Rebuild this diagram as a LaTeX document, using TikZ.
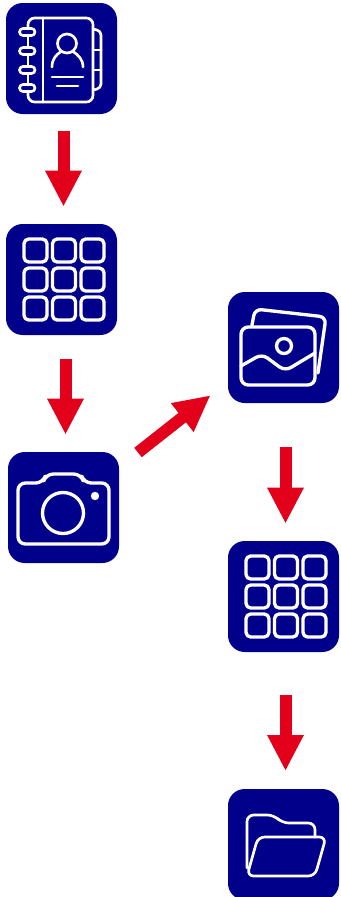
\documentclass[tikz,border=0pt]{standalone}
\usepackage{tikz}
\usetikzlibrary{arrows.meta}

\definecolor{tilenavy}{RGB}{0,0,139}
\definecolor{arrowred}{RGB}{227,0,27}

\tikzset{
    tile/.style={fill=tilenavy, minimum size=83.25pt, inner sep=0pt, outer sep=0pt, rounded corners=12.5pt},
    glyph/.style={draw=white, line width=2.5pt, line join=round, line cap=round},
    thinglyph/.style={draw=white, line width=2pt, line join=round, line cap=round},
    flowarrow/.style={draw=arrowred, line width=9pt, -{Triangle[length=27pt,width=25.5pt,fill=arrowred]}},
    pics/appgrid/.style={code={
        \foreach \col in {-1,0,1} {
            \foreach \row in {-1,0,1} {
                \draw[glyph, rounded corners=3.5pt] ({2.5+28.5*\col-11.5},{29*\row-11.5}) rectangle ({2.5+28.5*\col+11.5},{29*\row+11.5});
            }
        }
    }}
}

\begin{document}
\begin{tikzpicture}[x=0.75pt, y=-0.75pt]

    \clip (0,0) rectangle (341,897);

    % Tiles
    \node[tile] (contacts) at (61.5,58.5) {};
    \node[tile] (appsleft) at (61.5,279.5) {};
    \node[tile] (camera) at (63.5,507.5) {};
    \node[tile] (photos) at (283.5,347.5) {};
    \node[tile] (appsright) at (283.5,596.5) {};
    \node[tile] (folder) at (283.5,844.5) {};

    % Arrows
    \draw[flowarrow] ([xshift=1.5pt]contacts.south) ++(0,17) -- ([xshift=1.5pt,yshift=13pt]appsleft.north);
    \draw[flowarrow] ([xshift=3pt]appsleft.south) ++(0,24) -- ([xshift=1.5pt,yshift=13pt]camera.north);
    \draw[flowarrow] ([xshift=1.5pt]photos.south) ++(0,44) -- ([xshift=1.5pt,yshift=13pt]appsright.north);
    \draw[flowarrow] ([xshift=1.5pt]appsright.south) ++(0,43) -- ([xshift=1.5pt,yshift=13.5pt]folder.north);
    \draw[flowarrow] ([shift={(19,-55)}]camera.east) -- ([shift={(-17.5,47.8)}]photos.west);

    % Address book
    \draw[thinglyph, rounded corners=5pt] (28,28) -- (28,18) -- (93,18) -- (93,102) -- (28,102) -- (28,92);
    \foreach \ypos in {36,55,74} {
        \draw[thinglyph] (28,\ypos) -- (28,\ypos+11);
    }
    \foreach \ypos in {32,51,70,88} {
        \draw[thinglyph, rounded corners=2.6pt] (19.5,\ypos-3.5) rectangle (35,\ypos+3.5);
    }
    \draw[thinglyph] (43,18) -- (43,102);
    \draw[thinglyph, rounded corners=3pt] (93,29) -- (101,31) -- (101,88) -- (93,90);
    \draw[thinglyph] (93,50) -- (101,50);
    \draw[thinglyph] (93,70) -- (101,70);
    \draw[thinglyph] (67,43.5) circle (9.5);
    \draw[thinglyph] (52,67) .. controls (52,59) and (56,55) .. (61,51.5);
    \draw[thinglyph] (83,67) .. controls (83,59) and (78,55) .. (73,51.5);
    \draw[thinglyph] (52,77) -- (83,77);
    \draw[thinglyph] (57,86) -- (78,86);

    % App grids
    \pic at (appsleft.center) {appgrid};
    \pic at (appsright.center) {appgrid};

    % Camera
    \draw[glyph, rounded corners=5.5pt] (18,483) -- (43,483) -- (46,474) -- (81,474) -- (84,483) -- (109,483) -- (109,544) -- (18,544) -- cycle;
    \draw[glyph] (63,513) circle (20.5);
    \fill[white] (95,496) circle (4.2);

    % Photos
    \draw[glyph, rounded corners=5.5pt] (241,327) rectangle (315,385);
    \draw[glyph, rounded corners=5pt] (252,325) -- (255,309) -- (326,317) -- (318,373);
    \draw[glyph] (284,346) circle (7.5);
    \draw[glyph, rounded corners=5pt] (241,366) -- (262,354) -- (285,371) -- (315,353);

    % Folder
    \draw[thinglyph, rounded corners=5pt] (247,868) -- (247,815) -- (274,815) -- (282,823) -- (315,823) -- (315,837);
    \draw[thinglyph, rounded corners=5pt] (258,837) -- (326,837) -- (315,876) -- (247,876) -- cycle;

\end{tikzpicture}
\end{document}
